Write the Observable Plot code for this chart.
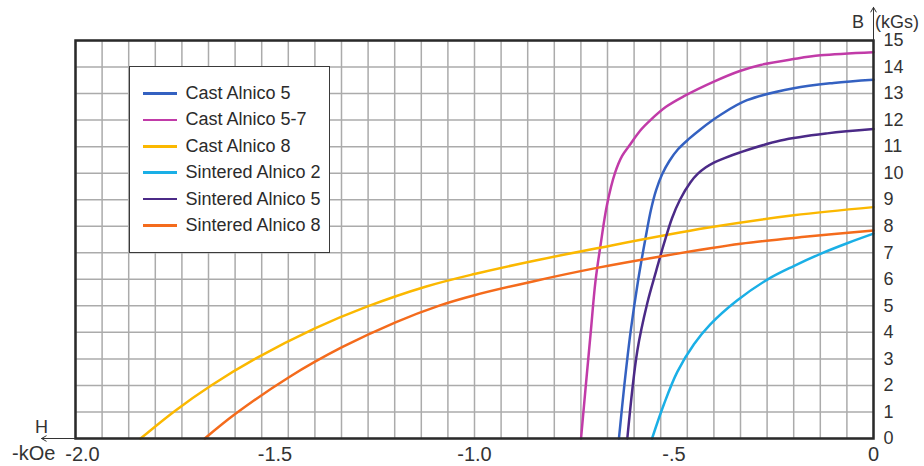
<!DOCTYPE html>
<html>
<head>
<meta charset="utf-8">
<script src="https://cdn.jsdelivr.net/npm/d3@7"></script>
<script src="https://cdn.jsdelivr.net/npm/@observablehq/plot@0.6"></script>
<style>
  html, body { margin: 0; padding: 0; background: #fff; }
  #wrap { position: relative; width: 924px; height: 466px; font-family: "Liberation Sans", Arial, sans-serif; color: #333; }
  #legend { position: absolute; left: 129px; top: 66px; width: 201px; height: 187px; box-sizing: border-box;
            border: 1.5px solid #3a3a3a; background: #fff; padding-top: 13.3px; }
  .row { height: 26.4px; display: flex; align-items: center; font-size: 18px; color: #2b2b2b; white-space: nowrap; }
  .sw { width: 34px; height: 2.5px; margin-left: 12.5px; margin-right: 9px; }
</style>
</head>
<body>
<div id="wrap"></div>
<script>
// ---- series names and colours ----
const seriesNames = ["Cast Alnico 5", "Cast Alnico 5-7", "Cast Alnico 8", "Sintered Alnico 2", "Sintered Alnico 5", "Sintered Alnico 8"];
const seriesColors = ["#3461c1", "#c13ba8", "#fbb800", "#1aafe6", "#4b2a87", "#f46b1c"];

// ---- demagnetization curves: H (kOe, negative) and B (kGs) ----
const castAlnico5H  = [-0.638, -0.6245, -0.609, -0.5895, -0.572, -0.558, -0.545, -0.530, -0.512, -0.490, -0.462, -0.434, -0.383, -0.317, -0.200, -0.100, 0];
const castAlnico5B  = [0, 2.0, 4.0, 6.0, 7.5, 8.6, 9.35, 9.95, 10.45, 10.9, 11.3, 11.65, 12.2, 12.75, 13.2, 13.4, 13.52];

const castAlnico57H = [-0.733, -0.721, -0.709, -0.697, -0.684, -0.668, -0.648, -0.630, -0.609, -0.585, -0.559, -0.520, -0.475, -0.400, -0.335, -0.283, -0.200, -0.133, 0];
const castAlnico57B = [0, 2.0, 3.95, 5.9, 7.3, 8.8, 10.0, 10.65, 11.1, 11.6, 12.0, 12.5, 12.9, 13.45, 13.85, 14.08, 14.3, 14.44, 14.56];

const castAlnico8H  = [-1.837, -1.750, -1.660, -1.550, -1.400, -1.273, -1.123, -1.000, -0.850, -0.693, -0.417, -0.200, 0];
const castAlnico8B  = [0, 1.05, 2.0, 3.0, 4.15, 4.95, 5.72, 6.2, 6.7, 7.17, 7.94, 8.41, 8.72];

const sintAlnico2H  = [-0.555, -0.525, -0.492, -0.450, -0.409, -0.342, -0.266, -0.200, -0.133, -0.066, 0];
const sintAlnico2B  = [0, 1.3, 2.5, 3.55, 4.3, 5.2, 5.99, 6.5, 6.96, 7.36, 7.72];

const sintAlnico5H  = [-0.617, -0.592, -0.567, -0.545, -0.525, -0.505, -0.485, -0.459, -0.440, -0.420, -0.400, -0.375, -0.335, -0.233, -0.116, 0];
const sintAlnico5B  = [0, 3.3, 5.1, 6.3, 7.35, 8.3, 9.0, 9.65, 9.98, 10.22, 10.4, 10.56, 10.78, 11.23, 11.5, 11.66];

const sintAlnico8H  = [-1.676, -1.599, -1.465, -1.332, -1.198, -1.090, -1.000, -0.851, -0.693, -0.534, -0.333, -0.166, 0];
const sintAlnico8B  = [0, 0.93, 2.31, 3.44, 4.38, 5.0, 5.4, 5.93, 6.43, 6.86, 7.34, 7.61, 7.84];

// ---- axis ticks and labels ----
const xTickValues = [-2, -1.5, -1, -0.5, 0];
const xTickLabels = ["-2.0", "-1.5", "-1.0", "-.5", "0"];
const yTickValues = [0, 1, 2, 3, 4, 5, 6, 7, 8, 9, 10, 11, 12, 13, 14, 15];
const xGridStep = 1 / 15;   // grid divisions along H
const xGridCount = 30;

// ---- build table ----
const allH = [castAlnico5H, castAlnico57H, castAlnico8H, sintAlnico2H, sintAlnico5H, sintAlnico8H];
const allB = [castAlnico5B, castAlnico57B, castAlnico8B, sintAlnico2B, sintAlnico5B, sintAlnico8B];
const rows = [];
seriesNames.forEach((name, s) => {
  allH[s].forEach((h, i) => rows.push({series: name, H: h, B: allB[s][i]}));
});
const xGrid = d3.range(0, xGridCount + 1).map(k => -2 + k * xGridStep);
const firstTick = xTickValues.slice(0, 1);
const otherTicks = xTickValues.slice(1);
const fmtX = d => xTickLabels[xTickValues.indexOf(d)];

const chart = Plot.plot({
  width: 924,
  height: 466,
  marginLeft: 75,
  marginRight: 51,
  marginTop: 40,
  marginBottom: 28,
  style: {fontFamily: "'Liberation Sans', Arial, sans-serif", color: "#333", background: "transparent", overflow: "visible"},
  x: {domain: [-2, 0]},
  y: {domain: [0, 15]},
  color: {domain: seriesNames, range: seriesColors},
  marks: [
    Plot.ruleX(xGrid, {stroke: "#ababab", strokeWidth: 1.5}),
    Plot.ruleY(yTickValues, {stroke: "#ababab", strokeWidth: 1.5}),
    Plot.line(rows, {x: "H", y: "B", z: "series", stroke: "series", strokeWidth: 2.5, curve: "catmull-rom"}),
    Plot.frame({stroke: "#2a2a2a", strokeWidth: 2.5}),
    Plot.axisY(yTickValues, {anchor: "right", tickSize: 0, tickPadding: 10, label: null, fontSize: 18, fill: "#333"}),
    Plot.axisX(otherTicks, {anchor: "bottom", tickSize: 0, tickPadding: 8, label: null, fontSize: 20, fill: "#333", tickFormat: fmtX}),
    Plot.axisX(firstTick, {anchor: "bottom", tickSize: 0, tickPadding: 8, label: null, fontSize: 20, fill: "#333", tickFormat: fmtX, dx: 7}),
    Plot.arrow([{x1: -2, y1: 0, x2: -2.085, y2: 0}], {x1: "x1", y1: "y1", x2: "x2", y2: "y2", stroke: "#333", strokeWidth: 1, headLength: 8}),
    Plot.arrow([{x1: 0, y1: 15, x2: 0, y2: 16.25}], {x1: "x1", y1: "y1", x2: "x2", y2: "y2", stroke: "#333", strokeWidth: 1, headLength: 8})
  ]
});

const wrap = document.getElementById("wrap");
wrap.appendChild(chart);

// axis annotations
const svg = d3.select(chart);
const ann = [
  {t: "H", x: 35, y: 433, s: 18},
  {t: "-kOe", x: 12, y: 460, s: 20},
  {t: "B", x: 852, y: 28, s: 18},
  {t: "(kGs)", x: 875, y: 28, s: 18}
];
ann.forEach(a => {
  svg.append("text").attr("x", a.x).attr("y", a.y).attr("font-size", a.s)
    .attr("text-anchor", "start")
    .attr("fill", "#333").attr("font-family", "'Liberation Sans', Arial, sans-serif").text(a.t);
});

// legend
const leg = document.createElement("div");
leg.id = "legend";
seriesNames.forEach((name, i) => {
  const r = document.createElement("div");
  r.className = "row";
  const sw = document.createElement("span");
  sw.className = "sw";
  sw.style.background = seriesColors[i];
  const tx = document.createElement("span");
  tx.textContent = name;
  r.appendChild(sw);
  r.appendChild(tx);
  leg.appendChild(r);
});
wrap.appendChild(leg);
</script>
</body>
</html>
